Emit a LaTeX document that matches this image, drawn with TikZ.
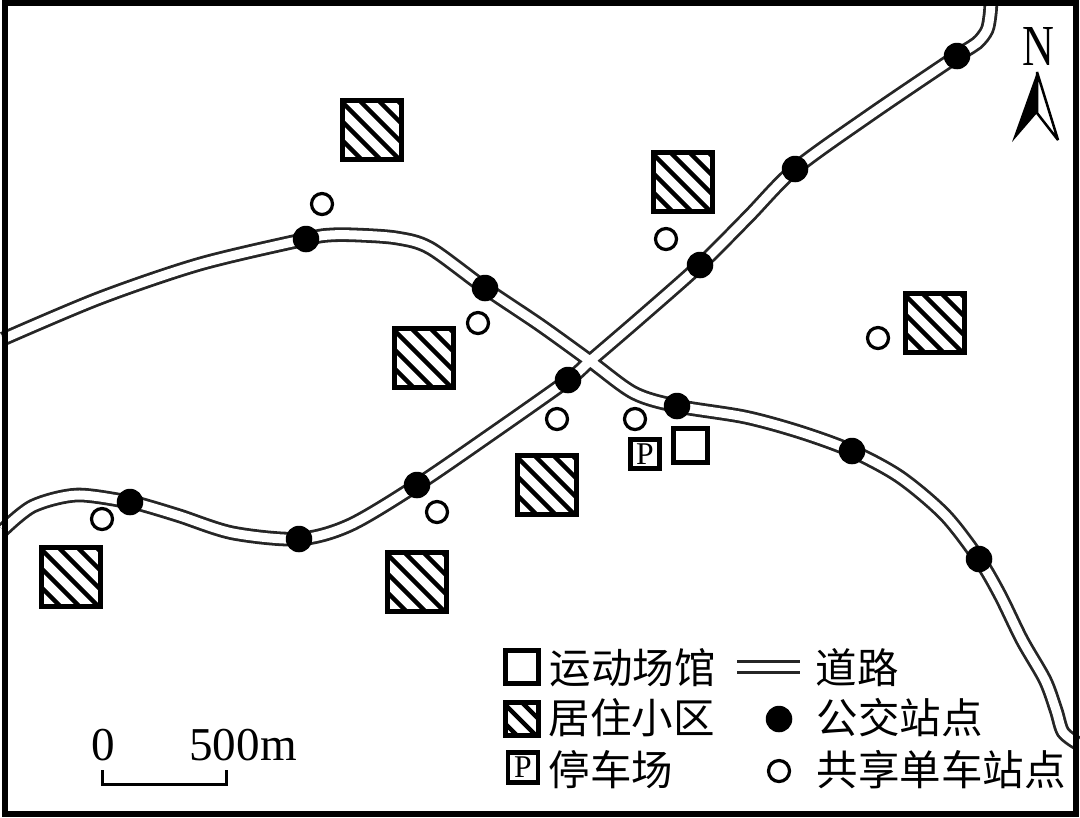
\documentclass[tikz,border=0pt]{standalone}
\usepackage{fontspec}
\setmainfont{Liberation Serif}
\newfontfamily\cjk{Noto Sans CJK SC}
\usetikzlibrary{backgrounds}
\begin{document}
\begin{tikzpicture}[x=0.01cm, y=-0.01cm,
  road/.style={draw=black!85, line width=0.028cm, double=white, double distance=0.09cm},
  busstop/.style={circle, fill=black, inner sep=0pt, minimum size=0.265cm},
  bikestop/.style={circle, draw=black, fill=white, line width=0.032cm, inner sep=0pt, minimum size=0.21cm},
  venue/.style={rectangle, draw=black, fill=white, line width=0.05cm, inner sep=0pt, minimum size=0.34cm},
  parking/.style={rectangle, draw=black, fill=white, line width=0.045cm, inner sep=0pt, minimum size=0.29cm, font=\fontsize{9}{9}\selectfont},
  housing/.style={rectangle, draw=black, fill=white, line width=0.05cm, inner sep=0pt, minimum size=#1,
    path picture={
      \foreach \d in {-78,-59,-40,-21,-2,17,36,55}
        \draw [line width=0.045cm] ([xshift=\d*0.01cm]path picture bounding box.north west) -- ++(75,75);
    }},
  housing/.default=0.585cm,
  legendtext/.style={anchor=west, inner sep=0pt, font=\cjk\fontsize{11.8}{12}\selectfont},
  scaletext/.style={inner sep=0pt, font=\fontsize{13.4}{14}\selectfont}]
\useasboundingbox (0,0) rectangle (1080,817);

\node [housing] (hsa) at (372,130) {};
\node [housing] (hsb) at (683,182) {};
\node [housing] (hsc) at (424,358) {};
\node [housing] (hsd) at (935,323) {};
\node [housing] (hse) at (547,485) {};
\node [housing] (hsf) at (71,577) {};
\node [housing] (hsg) at (417,582) {};

\node [bikestop] (bikea) at (322,204) {};
\node [bikestop] (bikeb) at (478,323) {};
\node [bikestop] (bikec) at (666,239) {};
\node [bikestop] (biked) at (878,338) {};
\node [bikestop] (bikee) at (557,419) {};
\node [bikestop] (bikef) at (635,419) {};
\node [bikestop] (bikeg) at (437,512) {};
\node [bikestop] (bikeh) at (102,519) {};

\node [venue] (stadium) at (690,445) {};
\node [parking] (park) at (645,454) {P};

\node [busstop] (busa) at (306,239) {};
\node [busstop] (busb) at (485,288) {};
\node [busstop] (busc) at (677,406) {};
\node [busstop] (busd) at (852,451) {};
\node [busstop] (buse) at (979,559) {};
\node [busstop] (busf) at (130,502) {};
\node [busstop] (busg) at (299,539) {};
\node [busstop] (bush) at (417,485) {};
\node [busstop] (busi) at (568,380) {};
\node [busstop] (busj) at (700,265) {};
\node [busstop] (busk) at (795,169) {};
\node [busstop] (busl) at (957,56) {};

\coordinate (cross) at (590,361);

\begin{pgfonlayer}{background}
\draw [road] plot [smooth, tension=0.5] coordinates {(3,339) (100,298) (200,264) (busa.center) (330,235) (357,235) (397,238) (430,248) (busb.center) (540,325) (cross) (634,393) (busc.center) (745,417) (800,432) (busd.center) (900,477) (945,515) (buse.center) (1000,595) (1022,640) (1045,680) (1056,710) (1063,732) (1077,743)}
  plot [smooth, tension=0.5] coordinates {(3,530) (33,506) (77,495) (busf.center) (147,506) (180,516) (233,533) (busg.center) (350,525) (bush.center) (490,435) (busi.center) (cross) (640,318) (busj.center) (748,217) (busk.center) (870,115) (busl.center) (977,43) (987,30) (990,15) (991,2)};
\end{pgfonlayer}

\draw [line width=0.06cm] (5,3) rectangle (1076,814);

\node [inner sep=0pt, xscale=0.76, font=\fontsize{16.5}{17}\selectfont] (north) at (1038,46) {N};
\coordinate (tip) at (1037,72);
\coordinate (notch) at (1037,113);
\coordinate (lwing) at (1012,142);
\coordinate (rwing) at (1058,140);
\fill (tip) -- (lwing) -- (notch) -- cycle;
\draw [line width=0.025cm, line join=bevel] (tip) -- (rwing) -- (notch) -- cycle;

\node [scaletext] (zero) at (103,745) {0};
\node [scaletext] (fivehundred) at (243,745) {500m};
\coordinate (bara) at (102,770);
\coordinate (barb) at (226,770);
\draw [line width=0.03cm] (bara) -- ++(0,14) -| (barb);

\node [venue, minimum size=0.33cm] (lgvenue) at (521.5,666.5) {};
\node [legendtext] (lgvenuetext) at (549,668) {运动场馆};
\node [housing=0.33cm] (lghousing) at (521.5,719) {};
\node [legendtext] (lghousingtext) at (548,718) {居住小区};
\node [parking, minimum size=0.3cm] (lgpark) at (523,767.5) {P};
\node [legendtext] (lgparktext) at (548,770) {停车场};
\coordinate (lgroada) at (737,661);
\coordinate (lgroadb) at (800,661);
\coordinate (lgroadc) at (737,672);
\coordinate (lgroadd) at (800,672);
\draw [draw=black!85, line width=0.03cm] (lgroada) -- (lgroadb) (lgroadc) -- (lgroadd);
\node [legendtext] (lgroadtext) at (815,668) {道路};
\node [busstop] (lgbus) at (779,719) {};
\node [legendtext] (lgbustext) at (816,718) {公交站点};
\node [bikestop] (lgbike) at (779,771) {};
\node [legendtext] (lgbiketext) at (816,770) {共享单车站点};
\end{tikzpicture}
\end{document}
